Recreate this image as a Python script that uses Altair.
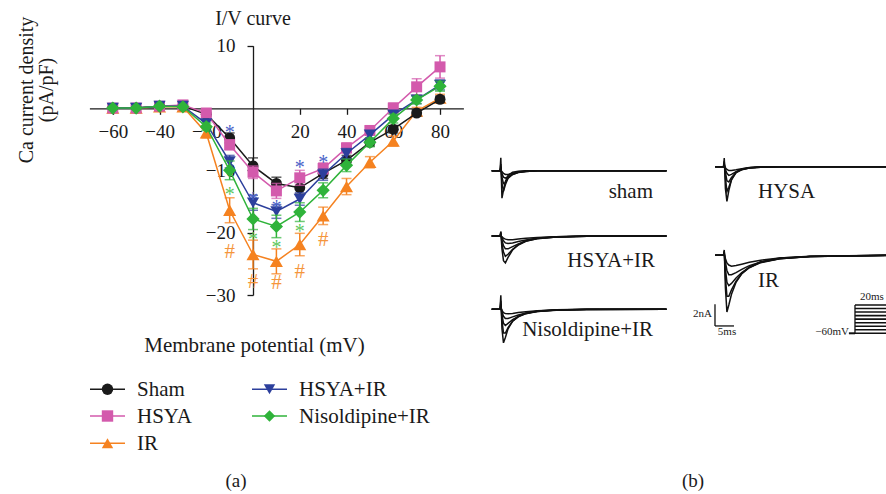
import altair as alt
import pandas as pd

W, H = 886, 494
FONT = "Liberation Serif"

# ---------------- Panel (a): I/V curve data ----------------
voltages = [-60, -50, -40, -30, -20, -10, 0, 10, 20, 30, 40, 50, 60, 70, 80]

sham_mean = [0, 0, 0.3, 0.3, -1.0, -4.8, -9.3, -12.1, -12.8, -10.5, -8.4, -5.5, -3.4, -0.8, 1.4]
sham_sem = [0.2, 0.2, 0.2, 0.2, 0.4, 0.8, 1.3, 1.0, 1.0, 0.8, 0.8, 0.6, 0.6, 0.5, 0.5]
hsya_mean = [0, 0, 0.3, 0.5, -0.8, -5.9, -10.3, -13.3, -11.2, -9.7, -6.4, -3.6, 0.0, 3.4, 6.6]
hsya_sem = [0.2, 0.2, 0.2, 0.2, 0.4, 0.8, 1.0, 1.2, 1.2, 0.9, 0.8, 0.6, 0.8, 1.3, 1.8]
ir_mean = [0, 0, 0.2, 0.2, -4.0, -16.4, -23.5, -24.6, -21.9, -17.3, -12.6, -8.7, -5.3, -0.5, 1.6]
ir_sem = [0.2, 0.2, 0.2, 0.2, 0.8, 2.0, 2.3, 2.0, 1.8, 1.4, 1.3, 0.9, 0.8, 0.6, 0.6]
hsyair_mean = [0, 0, 0.3, 0.3, -2.5, -8.6, -15.2, -16.6, -14.6, -10.7, -7.3, -4.3, -1.1, 1.3, 3.7]
hsyair_sem = [0.2, 0.2, 0.2, 0.2, 0.5, 1.0, 1.2, 1.1, 1.0, 0.9, 0.8, 0.6, 0.6, 0.6, 0.8]
nis_mean = [0, 0, 0.3, 0.2, -3.0, -10.0, -17.8, -19.0, -16.7, -13.2, -9.2, -5.5, -1.7, 1.3, 3.5]
nis_sem = [0.2, 0.2, 0.2, 0.2, 0.6, 1.5, 1.7, 1.8, 1.5, 1.2, 1.0, 0.7, 0.7, 0.6, 0.8]

series_names = ["Sham", "HSYA", "IR", "HSYA+IR", "Nisoldipine+IR"]
series_colors = ["#1a1a1a", "#d35aac", "#f58220", "#2c3f9c", "#2fb33a"]
series_shapes = ["circle", "square", "triangle-up", "triangle-down", "diamond"]
series_sizes = [120, 121, 170, 150, 175]

# significance marks
star_hsyair_v = [-10, 0, 10, 20, 30]
star_hsyair_i = [-3.2, -13.9, -15.2, -8.9, -8.0]
star_nis_v = [-10, 0, 10, 20]
star_nis_i = [-13.1, -20.3, -21.6, -19.1]
hash_ir_v = [-10, 0, 10, 20, 30]
hash_ir_i = [-22.8, -27.6, -27.8, -26.0, -20.9]

x_ticks = [-60, -40, -20, 20, 40, 60, 80]
y_ticks = [10, -10, -20, -30]

# ---------------- Panel (b): current traces (ms, nA) ----------------
trace_t = [0, 2.2, 2.4, 2.7, 3.1, 3.6, 4.3, 5.5, 7, 9, 12, 17, 25, 46]
sham_traces = [
    [0, 0, 1.2, -2.55, -1.8, -1.0, -0.45, -0.15, -0.05, 0, 0, 0, 0, 0],
    [0, 0, 0.6, -1.2, -1.9, -1.3, -0.7, -0.3, -0.1, -0.03, 0, 0, 0, 0],
    [0, 0, 0.3, -0.6, -1.2, -1.1, -0.7, -0.35, -0.15, -0.05, 0, 0, 0, 0],
    [0, 0, 0.2, -0.3, -0.6, -0.7, -0.55, -0.35, -0.18, -0.07, -0.02, 0, 0, 0],
    [0, 0, 0.1, -0.1, -0.25, -0.35, -0.35, -0.25, -0.15, -0.07, -0.02, 0, 0, 0],
]
hysa_traces = [
    [0, 0, 0.8, -2.0, -3.2, -2.2, -1.2, -0.5, -0.2, -0.07, 0, 0, 0, 0],
    [0, 0, 0.5, -1.0, -2.3, -1.9, -1.2, -0.55, -0.25, -0.1, -0.03, 0, 0, 0],
    [0, 0, 0.3, -0.5, -1.3, -1.4, -1.0, -0.55, -0.28, -0.12, -0.04, 0, 0, 0],
    [0, 0, 0.2, -0.25, -0.6, -0.8, -0.7, -0.45, -0.25, -0.12, -0.04, 0, 0, 0],
    [0, 0, 0.1, -0.1, -0.25, -0.35, -0.35, -0.28, -0.18, -0.09, -0.03, 0, 0, 0],
]
hsyair_traces = [
    [0, 0, 0.4, -1.2, -2.3, -2.5, -2.0, -1.3, -0.8, -0.45, -0.2, -0.07, -0.02, 0],
    [0, 0, 0.3, -0.7, -1.5, -1.9, -1.7, -1.25, -0.85, -0.5, -0.25, -0.1, -0.03, 0],
    [0, 0, 0.2, -0.4, -0.9, -1.2, -1.2, -1.0, -0.75, -0.48, -0.26, -0.1, -0.03, 0],
    [0, 0, 0.1, -0.2, -0.45, -0.65, -0.7, -0.65, -0.52, -0.38, -0.22, -0.1, -0.03, 0],
    [0, 0, 0.05, -0.1, -0.2, -0.3, -0.35, -0.35, -0.3, -0.23, -0.15, -0.07, -0.02, 0],
]
ir_traces = [
    [0, 0, 0.5, -3.0, -5.25, -4.6, -3.6, -2.5, -1.7, -1.1, -0.6, -0.25, -0.08, 0],
    [0, 0, 0.4, -2.0, -3.8, -3.8, -3.2, -2.4, -1.7, -1.15, -0.65, -0.3, -0.1, 0],
    [0, 0, 0.3, -1.2, -2.5, -2.8, -2.6, -2.1, -1.6, -1.1, -0.68, -0.32, -0.11, 0],
    [0, 0, 0.2, -0.6, -1.4, -1.8, -1.8, -1.6, -1.3, -0.95, -0.62, -0.32, -0.12, 0],
    [0, 0, 0.1, -0.3, -0.7, -0.9, -1.0, -0.95, -0.82, -0.65, -0.45, -0.25, -0.1, 0],
]
nis_traces = [
    [0, 0, 1.3, -1.8, -3.1, -2.6, -1.8, -1.1, -0.65, -0.35, -0.15, -0.05, 0, 0],
    [0, 0, 0.8, -1.0, -2.2, -2.2, -1.7, -1.1, -0.7, -0.4, -0.18, -0.06, 0, 0],
    [0, 0, 0.5, -0.5, -1.3, -1.5, -1.3, -0.95, -0.65, -0.4, -0.2, -0.07, -0.02, 0],
    [0, 0, 0.3, -0.25, -0.65, -0.85, -0.85, -0.7, -0.52, -0.35, -0.2, -0.08, -0.02, 0],
    [0, 0, 0.15, -0.1, -0.3, -0.4, -0.42, -0.38, -0.3, -0.22, -0.13, -0.06, -0.02, 0],
]
trace_labels = ["sham", "HYSA", "HSYA+IR", "IR", "Nisoldipine+IR"]
scale_bar_nA = 2
scale_bar_ms = 5
protocol_steps = 9

# ---------------- Layout (pixels / panel offsets) ----------------
A_X_RANGE = [89.4, 463.4]     # x domain [-70, 90]
A_Y_RANGE = [295.0, 45.7]     # y domain [-30, 10]
A_X0_PX = 253.0
A_Y0_PX = 108.3

B_X_RANGE = [486.0, 486.0 + 100 * 3.8]   # domain [0, 100] ms
B_Y_RANGE = [494.0, 494.0 - 40 * 10.8]   # domain [0, 40] nA
b_origins = {
    "sham": (1.5, 29.94),
    "HYSA": (60.3, 30.3),
    "HSYA+IR": (1.5, 23.9),
    "IR": (60.3, 22.1),
    "Nisoldipine+IR": (1.5, 17.1),
}
SB_T, SB_V = 60.26, 15.56
PR_T0, PR_T1, PR_TEND = 95.5, 97.1, 106.0
PR_VLO, PR_VHI = 14.88, 17.5

xa = alt.Scale(domain=[-70, 90], range=A_X_RANGE, nice=False, zero=False)
ya = alt.Scale(domain=[-30, 10], range=A_Y_RANGE, nice=False, zero=False)

axis_common = dict(labelFont=FONT, labelFontSize=19, labelColor="#1a1a1a",
                   domainColor="#1a1a1a", tickColor="#1a1a1a", domainWidth=1.3,
                   tickWidth=1.3, tickSize=6, grid=False, title=None, domain=True,
                   ticks=True, labels=True)
x_axis = alt.Axis(orient="bottom", offset=-(H - A_Y0_PX), values=x_ticks,
                  labelPadding=8, **axis_common)
y_axis = alt.Axis(orient="left", offset=-A_X0_PX, values=y_ticks,
                  labelPadding=12, **axis_common)

XA = lambda f: alt.X(f, scale=xa, axis=x_axis)
YA = lambda f: alt.Y(f, scale=ya, axis=y_axis)

means = {"Sham": sham_mean, "HSYA": hsya_mean, "IR": ir_mean,
         "HSYA+IR": hsyair_mean, "Nisoldipine+IR": nis_mean}
sems = {"Sham": sham_sem, "HSYA": hsya_sem, "IR": ir_sem,
        "HSYA+IR": hsyair_sem, "Nisoldipine+IR": nis_sem}
style = {n: (c, s, z) for n, c, s, z in zip(series_names, series_colors, series_shapes, series_sizes)}

draw_order = ["IR", "Sham", "HSYA", "HSYA+IR", "Nisoldipine+IR"]
a_layers = []
for name in draw_order:
    color, shape, size = style[name]
    m, s = means[name], sems[name]
    df = pd.DataFrame({"V": voltages, "I": m,
                       "lo": [a - b for a, b in zip(m, s)],
                       "hi": [a + b for a, b in zip(m, s)]})
    base = alt.Chart(df)
    line = base.mark_line(color=color, strokeWidth=1.5).encode(x=XA("V:Q"), y=YA("I:Q"))
    bars = base.mark_rule(color=color, strokeWidth=1.5).encode(
        x=XA("V:Q"), y=YA("lo:Q"), y2="hi:Q")
    cap_lo = base.mark_tick(color=color, orient="horizontal", size=10, thickness=1.5).encode(
        x=XA("V:Q"), y=YA("lo:Q"))
    cap_hi = base.mark_tick(color=color, orient="horizontal", size=10, thickness=1.5).encode(
        x=XA("V:Q"), y=YA("hi:Q"))
    pts = base.mark_point(shape=shape, filled=True, size=size, color=color, opacity=1).encode(
        x=XA("V:Q"), y=YA("I:Q"))
    a_layers += [line, bars, cap_lo, cap_hi, pts]

def sig_layer(vs, ys, txt, color, fs, dy):
    df = pd.DataFrame({"V": vs, "I": ys, "t": [txt] * len(vs)})
    return alt.Chart(df).mark_text(font=FONT, fontSize=fs, color=color, dy=dy,
                                   baseline="alphabetic", align="center").encode(
        x=XA("V:Q"), y=YA("I:Q"), text="t:N")

a_layers += [
    sig_layer(star_hsyair_v, star_hsyair_i, "*", "#4a63c8", 20, 11),
    sig_layer(star_nis_v, star_nis_i, "*", "#5cc85c", 20, 11),
    sig_layer(hash_ir_v, hash_ir_i, "#", "#f5963c", 21, 7.5),
]
panel_a = alt.layer(*a_layers)

# ---------------- Panel (b) ----------------
xb = alt.Scale(domain=[0, 100], range=B_X_RANGE, nice=False, zero=False)
yb = alt.Scale(domain=[0, 40], range=B_Y_RANGE, nice=False, zero=False)

rows = []
for lab, traces in zip(trace_labels, [sham_traces, hysa_traces, hsyair_traces, ir_traces, nis_traces]):
    t0, v0 = b_origins[lab]
    for k, tr in enumerate(traces):
        for i, (t, v) in enumerate(zip(trace_t, tr)):
            rows.append({"id": f"{lab}-{k}", "order": i, "T": t + t0, "Vb": v + v0})
tr_df = pd.DataFrame(rows)
traces_chart = alt.Chart(tr_df).mark_line(color="#111111", strokeWidth=1.5).encode(
    x=alt.X("T:Q", scale=xb, axis=None), y=alt.Y("Vb:Q", scale=yb, axis=None),
    detail="id:N", order="order:Q")

seg = [
    {"x": SB_T, "x2": SB_T, "y": SB_V, "y2": SB_V + scale_bar_nA, "w": 1.3},
    {"x": SB_T, "x2": SB_T + scale_bar_ms, "y": SB_V, "y2": SB_V, "w": 1.3},
    {"x": PR_T0, "x2": PR_T1, "y": PR_VLO, "y2": PR_VLO, "w": 2.0},
    {"x": PR_T1, "x2": PR_T1, "y": PR_VLO, "y2": PR_VHI, "w": 1.3},
]
step = (PR_VHI - PR_VLO) / (protocol_steps - 1)
for k in range(protocol_steps):
    lv = PR_VLO + k * step
    seg.append({"x": PR_T1, "x2": PR_TEND, "y": lv, "y2": lv, "w": 1.6})
seg_df = pd.DataFrame(seg)
seg_chart = alt.Chart(seg_df).mark_rule(color="#111111").encode(
    x=alt.X("x:Q", scale=xb, axis=None), x2="x2:Q",
    y=alt.Y("y:Q", scale=yb, axis=None), y2="y2:Q",
    strokeWidth=alt.StrokeWidth("w:Q", scale=None, legend=None))
panel_b = alt.layer(traces_chart, seg_chart)

# ---------------- Texts ----------------
def text_layer(rows, align):
    df = pd.DataFrame(rows, columns=["label", "px", "py", "fs", "ang"])
    return alt.Chart(df).mark_text(align=align, baseline="alphabetic", font=FONT, color="#1a1a1a").encode(
        x=alt.X("px:Q", scale=None), y=alt.Y("py:Q", scale=None), text="label:N",
        size=alt.Size("fs:Q", scale=None, legend=None),
        angle=alt.Angle("ang:Q", scale=None))

center_txt = text_layer([
    ["I/V curve", 253, 25, 20, 0],
    ["Membrane potential (mV)", 254.5, 352, 21, 0],
    ["Ca current density", 33, 90, 20, 270],
    ["(pA/pF)", 53, 90, 20, 270],
    ["(a)", 236, 487, 19, 0],
    ["(b)", 693, 487, 19, 0],
    ["5ms", 727, 335, 11, 0],
], "center")
right_txt = text_layer([
    ["sham", 653, 198, 21, 0],
    ["HSYA+IR", 655, 267, 21, 0],
    ["Nisoldipine+IR", 653, 336, 21, 0],
    ["2nA", 712, 317, 11, 0],
    ["\u221260mV", 849, 335, 11, 0],
], "right")
left_txt = text_layer([
    ["HYSA", 758, 198, 21, 0],
    ["IR", 758, 287, 21, 0],
    ["20ms", 860, 300, 11, 0],
], "left")

# ---------------- Legend (manual) ----------------
leg_col_x = [90, 252]
leg_row_y = [389.3, 416.0, 443.3]
leg_pos = {"Sham": (0, 0), "HSYA": (0, 1), "IR": (0, 2), "HSYA+IR": (1, 0), "Nisoldipine+IR": (1, 1)}
leg_rows = []
for name in series_names:
    c, r = leg_pos[name]
    color, shape, size = style[name]
    x0 = leg_col_x[c]
    leg_rows.append({"name": name, "lx1": x0, "lx2": x0 + 35, "mx": x0 + 17.5,
                     "tx": x0 + 47, "ly": leg_row_y[r], "ty": leg_row_y[r] + 7,
                     "color": color, "shape": shape})
leg_df = pd.DataFrame(leg_rows)
leg_base = alt.Chart(leg_df)
leg_lines = leg_base.mark_rule(strokeWidth=1.5).encode(
    x=alt.X("lx1:Q", scale=None), x2="lx2:Q", y=alt.Y("ly:Q", scale=None),
    color=alt.Color("color:N", scale=None, legend=None))
leg_pts = leg_base.mark_point(filled=True, size=130, opacity=1).encode(
    x=alt.X("mx:Q", scale=None), y=alt.Y("ly:Q", scale=None),
    color=alt.Color("color:N", scale=None, legend=None),
    shape=alt.Shape("shape:N", scale=None, legend=None))
leg_txt = leg_base.mark_text(align="left", baseline="alphabetic", font=FONT, fontSize=21,
                             color="#1a1a1a").encode(
    x=alt.X("tx:Q", scale=None), y=alt.Y("ty:Q", scale=None), text="name:N")

chart = alt.layer(
    panel_a, panel_b, center_txt, right_txt, left_txt, leg_lines, leg_pts, leg_txt
).resolve_scale(x="independent", y="independent").properties(
    width=W, height=H, autosize=alt.AutoSizeParams(type="none"), padding=0,
    background="white"
).configure_view(stroke=None)

chart.save("out.html", embed_options={"renderer": "svg", "actions": False})
